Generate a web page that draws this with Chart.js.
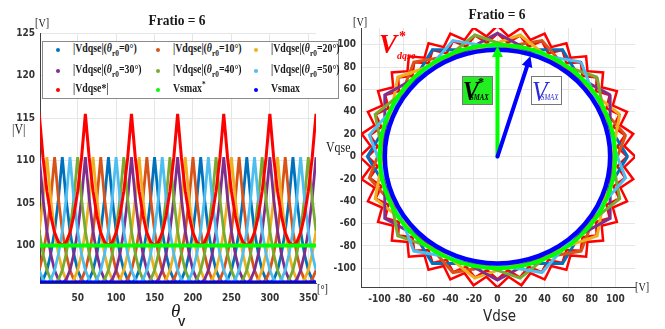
<!DOCTYPE html>
<html>
<head>
<meta charset="utf-8">
<script src="https://cdn.jsdelivr.net/npm/chart.js@4.4.1/dist/chart.umd.min.js"></script>
<style>
  body { margin: 0; background: #fff; }
  #page { position: relative; width: 665px; height: 329px; overflow: hidden; background: #fff; font-family: 'Liberation Serif', 'Times New Roman', serif; color: #1a1a1a; }
  .abs { position: absolute; white-space: nowrap; }
  canvas { position: absolute; top: 0; }
  .title { font-weight: bold; font-size: 15px; line-height: 16px; width: 120px; text-align: center; transform: scaleX(0.9); }
  .unit { font-size: 12px; line-height: 14px; transform: scaleX(0.85); transform-origin: 0 50%; }
  #legendBox { left: 42px; top: 41px; width: 295px; height: 56px; border: 1px solid #8a8a8a; background: #fff; }
  .mk { width: 4px; height: 4px; border-radius: 50%; }
  .lt { font-weight: bold; font-size: 12px; line-height: 14px; transform: scaleX(0.82); transform-origin: 0 50%; }
  .sub { font-size: 9px; position: relative; top: 4px; }
  .sup { font-size: 9px; position: relative; top: -5px; }
  .box { border: 1px solid #777; box-sizing: border-box; }
</style>
</head>
<body>
<div id="page">
  <canvas id="leftChart" width="340" height="329" style="left:0"></canvas>
  <canvas id="rightChart" width="345" height="329" style="left:320px"></canvas>

  <div class="abs title" style="left:117px; top:12px;">Fratio = 6</div>
  <div class="abs title" style="left:437px; top:6px;">Fratio = 6</div>

  <div class="abs unit" style="left:35px; top:16px;">[V]</div>
  <div class="abs unit" style="left:12px; top:123px; font-size:14px;">|V|</div>
  <div class="abs unit" style="left:317px; top:282px;">[°]</div>
  <div class="abs" style="left:171px; top:300px; font-size:19px; font-style:italic;">θ</div>
  <div class="abs" style="left:178px; top:316px; font:bold 11px 'Liberation Sans', sans-serif;">V</div>

  <div class="abs unit" style="left:353px; top:15px;">[V]</div>
  <div class="abs unit" style="left:635px; top:280px;">[V]</div>
  <div class="abs unit" style="left:326px; top:141px; font-size:14px;">Vqse</div>
  <div class="abs" style="left:483px; top:307px; font:15px 'Liberation Sans Narrow', 'DejaVu Sans Condensed', sans-serif; color:#262626;">Vdse</div>

  <div class="abs" style="left:379px; top:31px; color:#f00; font:italic bold 27px/27px 'Liberation Serif', serif;">V</div>
  <div class="abs" style="left:399px; top:30px; color:#f00; font:bold 14px/14px 'Liberation Serif', serif;">*</div>
  <div class="abs" style="left:397px; top:51px; color:#f00; font:italic bold 10px/10px 'Liberation Serif', serif;">dqse</div>

  <div class="abs box" style="left:462px; top:76px; width:31px; height:29px; background:#22ee22;"></div>
  <div class="abs" style="left:463px; top:77px; color:#000; font:italic bold 28px/28px 'Liberation Serif', serif; transform:scaleX(0.85); transform-origin:0 50%;">V</div>
  <div class="abs" style="left:478px; top:76px; color:#000; font:bold 12px/12px 'Liberation Serif', serif;">*</div>
  <div class="abs" style="left:470px; top:94px; color:#000; font:italic bold 8px/8px 'Liberation Serif', serif; transform:scaleX(0.85); transform-origin:0 50%;">SMAX</div>

  <div class="abs box" style="left:531px; top:76px; width:31px; height:29px; background:#fff;"></div>
  <div class="abs" style="left:532px; top:76px; color:#2b2bd6; font:italic 30px/30px 'Liberation Serif', serif; transform:scaleX(0.85); transform-origin:0 50%;">V</div>
  <div class="abs" style="left:541px; top:94px; color:#2b2bd6; font:italic 8px/8px 'Liberation Serif', serif; transform:scaleX(0.85); transform-origin:0 50%;">SMAX</div>

  <div class="abs" id="legendBox"></div>
  <div id="legendItems"></div>
</div>

<script>
// ---- left panel: |V| versus thetaV ----
// one 60 degree period of each trace, read every 5 degrees starting at a peak
const periodStep = 5;
const thetaR0 = [0, 10, 20, 30, 40, 50];
const firstPeak = [30, 20, 10, 0, 50, 40];
const vdqsePeriod = [110.4, 105.5, 101.7, 99.0, 97.1, 96.0, 95.6, 96.0, 97.1, 99.0, 101.7, 105.5];
const vdqseStarPeriod = [115.5, 110.3, 106.4, 103.5, 101.5, 100.4, 100.0, 100.4, 101.5, 103.5, 106.4, 110.3];
const vdqseStarPeak = 0;
const vsmaxStar = 100;
const vsmax = 95.6;
const thetaRange = [1, 360];
const leftXTicks = [50, 100, 150, 200, 250, 300, 350];
const leftYTicks = [100, 105, 110, 115, 120, 125];
const traceColors = ['#0072BD', '#D95319', '#EDB120', '#7E2F8E', '#77AC30', '#4DBEEE'];

// ---- right panel: Vqse versus Vdse ----
const hexVertexRadius = 110.4;
const redOuterRadii = [117, 108];
const redInnerRadii = [110, 102];
const redStep = 5;
const circleRadii = [100, 95.6];
const circleColors = ['#00ff00', '#0000ff'];
const vsmaxStarTip = [0, 99];
const vsmaxTip = [28, 90];
const rightTicks = [-100, -80, -60, -40, -20, 0, 20, 40, 60, 80, 100];

const tickFont = { family: "'Liberation Sans Narrow', 'DejaVu Sans Condensed', sans-serif", size: 10, weight: 'bold' };
const gridStyle = { color: '#e6e6e6', drawTicks: false };
const borderStyle = { color: '#404040', width: 1 };

function periodicTrace(period, peakAt) {
    const pts = [];
    const n = period.length;
    for (let th = 0; th <= 360; th += periodStep) {
        const k = ((((th - peakAt) / periodStep) % n) + n) % n;
        pts.push({ x: th, y: period[k] });
    }
    return pts;
}

function polar(r, deg) {
    const a = deg * Math.PI / 180;
    return { x: r * Math.cos(a), y: r * Math.sin(a) };
}

function fixedTicks(list) {
    return scale => { scale.ticks = list.map(v => ({ value: v })); };
}

// left chart datasets
const leftSets = thetaR0.map((t, i) => ({
    data: periodicTrace(vdqsePeriod, firstPeak[i]),
    borderColor: traceColors[i], borderWidth: 2.8, order: 10 - i
}));
leftSets.push({ data: periodicTrace(vdqseStarPeriod, vdqseStarPeak), borderColor: '#ff0000', borderWidth: 3, order: 3 });
leftSets.push({ data: thetaRange.map(x => ({ x, y: vsmaxStar })), borderColor: '#00ff00', borderWidth: 4, order: 2 });
leftSets.push({ data: thetaRange.map(x => ({ x, y: vsmax })), borderColor: '#0000ff', borderWidth: 5, order: 1 });

new Chart(document.getElementById('leftChart'), {
    type: 'scatter',
    data: { datasets: leftSets.map(d => Object.assign({ showLine: true, pointRadius: 0, tension: 0 }, d)) },
    options: {
        responsive: false,
        animation: false,
        layout: { padding: { top: 33, right: 24, left: 0, bottom: 0 } },
        plugins: { legend: { display: false }, tooltip: { enabled: false } },
        scales: {
            x: {
                type: 'linear', min: thetaRange[0], max: thetaRange[1],
                afterBuildTicks: fixedTicks(leftXTicks),
                afterFit: s => { s.height = 46; },
                grid: gridStyle, border: borderStyle,
                ticks: { font: tickFont, color: '#333', padding: 9, maxRotation: 0 }
            },
            y: {
                min: vsmax, max: 125,
                afterBuildTicks: fixedTicks(leftYTicks),
                afterFit: s => { s.width = 40; },
                grid: gridStyle, border: borderStyle,
                ticks: { font: tickFont, color: '#333', padding: 5 }
            }
        }
    }
});

// right chart datasets
const rightSets = [];
[redOuterRadii, redInnerRadii].forEach(radii => {
    const pts = [];
    for (let a = 0, i = 0; a <= 360; a += redStep, i++) pts.push(polar(radii[i % 2], a + 90));
    rightSets.push({ data: pts, borderColor: '#ff0000', borderWidth: 2.5, order: 20 });
});
thetaR0.forEach((t, i) => {
    const pts = [];
    for (let k = 0; k <= 6; k++) pts.push(polar(hexVertexRadius, t + 60 * k));
    rightSets.push({ data: pts, borderColor: traceColors[i], borderWidth: 3, order: 10 - i });
});

const circleAndArrows = {
    id: 'circleAndArrows',
    afterDatasetsDraw(chart) {
        const { ctx, scales: { x, y } } = chart;
        const cx = x.getPixelForValue(0), cy = y.getPixelForValue(0);
        ctx.save();
        circleRadii.forEach((r, i) => {
            ctx.beginPath();
            ctx.ellipse(cx, cy, x.getPixelForValue(r) - cx, cy - y.getPixelForValue(r), 0, 0, 2 * Math.PI);
            ctx.strokeStyle = circleColors[i];
            ctx.lineWidth = i === 0 ? 4 : 4.5;
            ctx.stroke();
        });
        [vsmaxStarTip, vsmaxTip].forEach((tip, i) => {
            const tx = x.getPixelForValue(tip[0]), ty = y.getPixelForValue(tip[1]);
            const ang = Math.atan2(ty - cy, tx - cx);
            const head = 11, half = 5.5;
            const bx = tx - head * Math.cos(ang), by = ty - head * Math.sin(ang);
            ctx.strokeStyle = ctx.fillStyle = circleColors[i];
            ctx.lineWidth = 4;
            ctx.lineCap = 'round';
            ctx.beginPath(); ctx.moveTo(cx, cy); ctx.lineTo(bx, by); ctx.stroke();
            ctx.beginPath();
            ctx.moveTo(tx, ty);
            ctx.lineTo(bx + half * Math.sin(ang), by - half * Math.cos(ang));
            ctx.lineTo(bx - half * Math.sin(ang), by + half * Math.cos(ang));
            ctx.closePath(); ctx.fill();
        });
        ctx.restore();
    }
};

new Chart(document.getElementById('rightChart'), {
    type: 'scatter',
    data: { datasets: rightSets.map(d => Object.assign({ showLine: true, pointRadius: 0, tension: 0 }, d)) },
    options: {
        responsive: false,
        animation: false,
        layout: { padding: { top: 28, right: 30, left: 0, bottom: 0 } },
        plugins: { legend: { display: false }, tooltip: { enabled: false } },
        scales: {
            x: {
                type: 'linear', min: -115.8, max: 116.7,
                afterBuildTicks: fixedTicks(rightTicks),
                afterFit: s => { s.height = 42; },
                grid: gridStyle, border: borderStyle,
                ticks: { font: tickFont, color: '#333', padding: 6, maxRotation: 0 }
            },
            y: {
                min: -116.7, max: 115,
                afterBuildTicks: fixedTicks(rightTicks),
                afterFit: s => { s.width = 41; },
                grid: gridStyle, border: borderStyle,
                ticks: { font: tickFont, color: '#333', padding: 5 }
            }
        }
    },
    plugins: [circleAndArrows]
});

// legend
const legendCols = [58, 158, 256];
const legendRows = [50, 71, 90];
const legendLabels = thetaR0.map(t => '|Vdqse|(<i>θ</i><span class="sub">r0</span>=' + t + '°)');
legendLabels.push('|Vdqse*|', 'Vsmax<span class="sup">*</span>', 'Vsmax');
const legendColors = traceColors.concat(['#ff0000', '#00ff00', '#0000ff']);
let html = '';
legendLabels.forEach((lab, i) => {
    const cx = legendCols[i % 3], cy = legendRows[Math.floor(i / 3)];
    html += '<div class="abs mk" style="left:' + (cx - 2) + 'px;top:' + (cy - 2) + 'px;background:' + legendColors[i] + '"></div>';
    html += '<div class="abs lt" style="left:' + (cx + 15) + 'px;top:' + (cy - 9) + 'px">' + lab + '</div>';
});
document.getElementById('legendItems').innerHTML = html;
</script>
</body>
</html>
